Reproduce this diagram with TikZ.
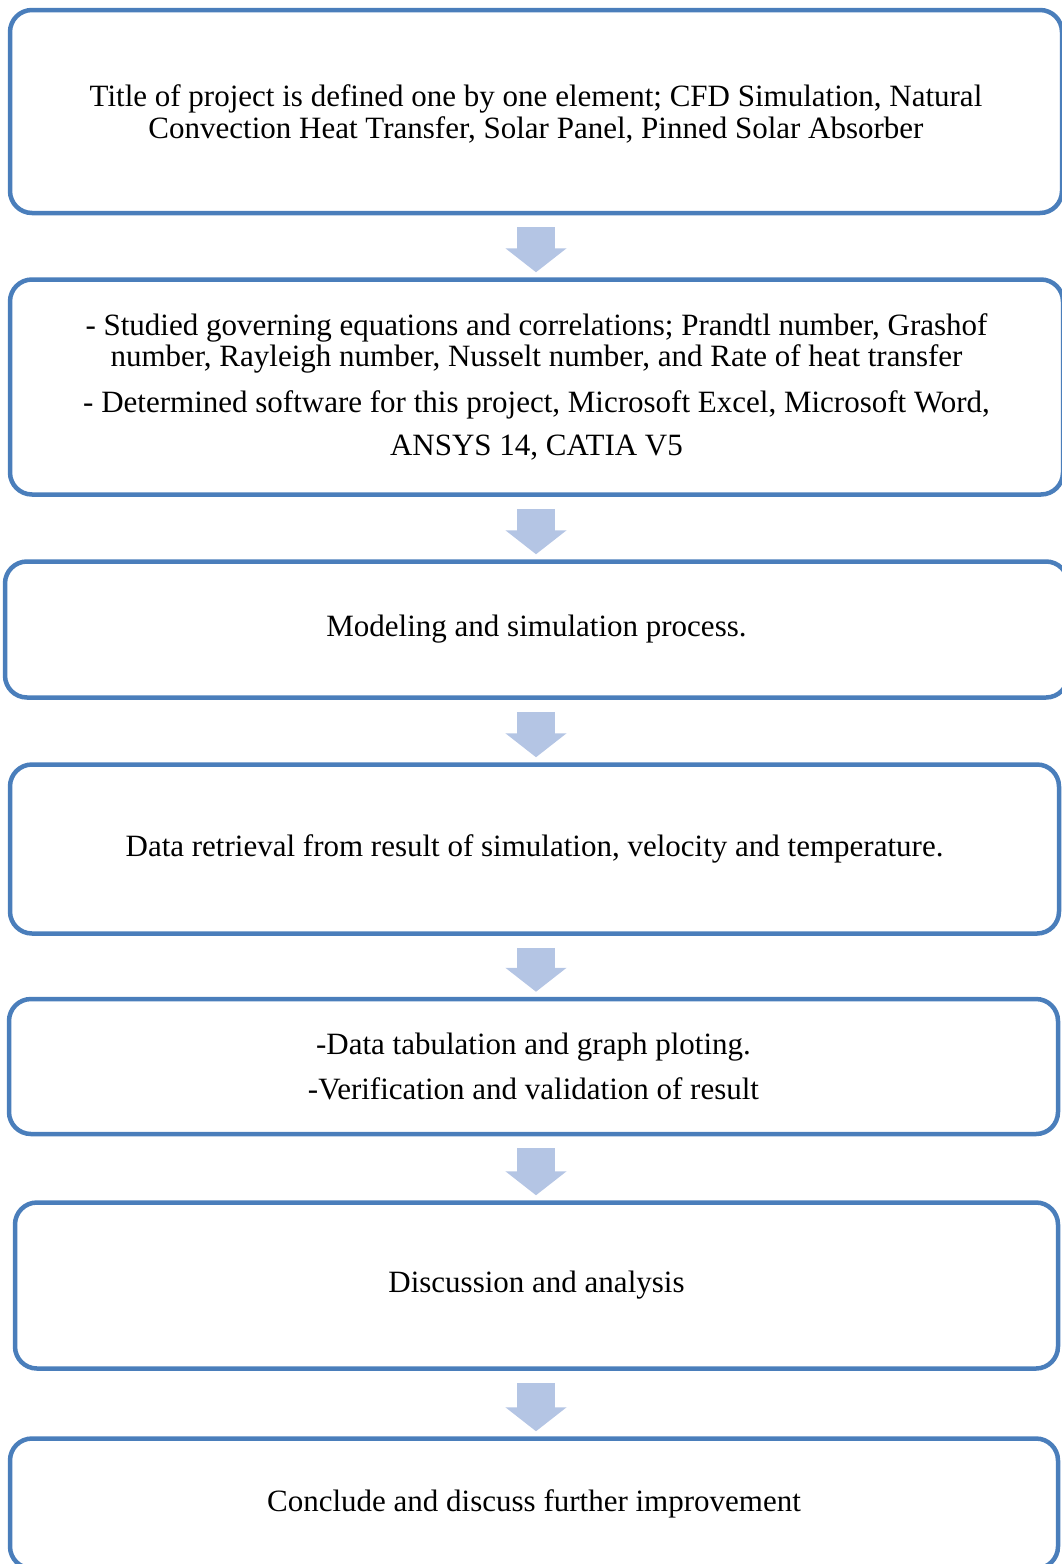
\documentclass[tikz,border=0pt]{standalone}
\usepackage{fontspec}
\setmainfont{Liberation Serif}
\usetikzlibrary{arrows.meta,positioning}
\definecolor{boxline}{RGB}{74,126,187}
\definecolor{flowfill}{RGB}{180,197,228}
\tikzset{
  stepbox/.style={draw=boxline,line width=4.5pt,rounded corners=22pt,fill=white,
    align=center,inner sep=0pt,font=\fontsize{31}{31.5}\selectfont},
  flow/.style={draw=flowfill,line width=38pt,-{Triangle[width=60pt,length=24pt]},
    shorten <=12pt,shorten >=5pt}
}
\begin{document}
\begin{tikzpicture}[x=1pt,y=-1pt]
   \useasboundingbox (0,0) rectangle (1061,1564);
   \node[stepbox,minimum width=1052pt,minimum height=203pt] (b1) at (536,111.5)
     {\\[-5pt]Title of project is defined one by one element; CFD Simulation, Natural\\
      Convection Heat Transfer, Solar Panel, Pinned Solar Absorber};
   \node[stepbox,minimum width=1053pt,minimum height=215pt] (b2) at (536.5,387)
     {- Studied governing equations and correlations; Prandtl number, Grashof\\
      number, Rayleigh number, Nusselt number, and Rate of heat transfer\\[14pt]
      - Determined software for this project, Microsoft Excel, Microsoft Word,\\[12pt]
      ANSYS 14, CATIA V5};
   \node[stepbox,minimum width=1063pt,minimum height=136pt] (b3) at (536.5,629.5)
     {Modeling and simulation process.};
   \node[stepbox,minimum width=1049pt,minimum height=169pt] (b4) at (534.5,849)
     {Data retrieval from result of simulation, velocity and temperature.};
   \node[stepbox,minimum width=1049pt,minimum height=135pt] (b5) at (533.5,1066.5)
     {-Data tabulation and graph ploting.\\[13.5pt]
      -Verification and validation of result};
   \node[stepbox,minimum width=1043pt,minimum height=166pt] (b6) at (536.5,1285.5)
     {Discussion and analysis};
   \node[stepbox,minimum width=1048pt,minimum height=130pt] (b7) at (534,1503.5)
     {Conclude and discuss further improvement};
   \foreach \a/\b in {b1/b2,b2/b3,b3/b4,b4/b5,b5/b6,b6/b7}
     \draw[flow] (\a.south -| b1.south) -- (\b.north -| b1.south);
\end{tikzpicture}
\end{document}
